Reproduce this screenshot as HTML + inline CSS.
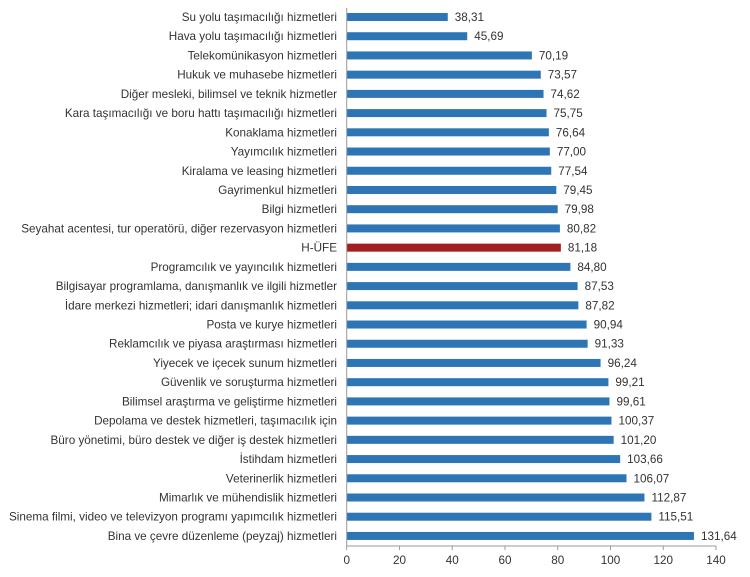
<!DOCTYPE html><html><head><style>body{margin:0;background:#fff}</style></head><body>
<svg width="750" height="572" xmlns="http://www.w3.org/2000/svg" font-family="Liberation Sans, sans-serif" font-size="11.7" fill="#333">
<g id="g"></g>
<line x1="346.7" y1="8" x2="346.7" y2="546" stroke="#999"/>
<line x1="346.7" y1="546" x2="716" y2="546" stroke="#999"/>
<script>
const d=[["Su yolu taşımacılığı hizmetleri",38.31],["Hava yolu taşımacılığı hizmetleri",45.69],["Telekomünikasyon hizmetleri",70.19],["Hukuk ve muhasebe hizmetleri",73.57],["Diğer mesleki, bilimsel ve teknik hizmetler",74.62],["Kara taşımacılığı ve boru hattı taşımacılığı hizmetleri",75.75],["Konaklama hizmetleri",76.64],["Yayımcılık hizmetleri",77.00],["Kiralama ve leasing hizmetleri",77.54],["Gayrimenkul hizmetleri",79.45],["Bilgi hizmetleri",79.98],["Seyahat acentesi, tur operatörü, diğer rezervasyon hizmetleri",80.82],["H-ÜFE",81.18],["Programcılık ve yayıncılık hizmetleri",84.80],["Bilgisayar programlama, danışmanlık ve ilgili hizmetler",87.53],["İdare merkezi hizmetleri; idari danışmanlık hizmetleri",87.82],["Posta ve kurye hizmetleri",90.94],["Reklamcılık ve piyasa araştırması hizmetleri",91.33],["Yiyecek ve içecek sunum hizmetleri",96.24],["Güvenlik ve soruşturma hizmetleri",99.21],["Bilimsel araştırma ve geliştirme hizmetleri",99.61],["Depolama ve destek hizmetleri, taşımacılık için",100.37],["Büro yönetimi, büro destek ve diğer iş destek hizmetleri",101.20],["İstihdam hizmetleri",103.66],["Veterinerlik hizmetleri",106.07],["Mimarlık ve mühendislik hizmetleri",112.87],["Sinema filmi, video ve televizyon programı yapımcılık hizmetleri",115.51],["Bina ve çevre düzenleme (peyzaj) hizmetleri",131.64]];
const ns="http://www.w3.org/2000/svg",g=document.getElementById("g");
function el(t,a,txt){const e=document.createElementNS(ns,t);for(const k in a)e.setAttribute(k,a[k]);if(txt!=null)e.textContent=txt;g.appendChild(e);}
const x0=346.7,s=2.638;
d.forEach((r,i)=>{const cy=17+i*19.22;const w=r[1]*s;
el("rect",{x:x0,y:cy-4,width:w,height:8,fill:r[0]=="H-ÜFE"?"#a31f1f":"#2e75b6"});
el("text",{x:337,y:cy+4,"text-anchor":"end"},r[0]);
el("text",{x:x0+w+7,y:cy+4},r[1].toFixed(2).replace(".",","));});
for(let v=0;v<=140;v+=20){const x=x0+v*s;el("line",{x1:x,y1:546,x2:x,y2:550,stroke:"#999"});el("text",{x:x,y:564,"text-anchor":"middle"},v);}
</script>
</svg></body></html>
